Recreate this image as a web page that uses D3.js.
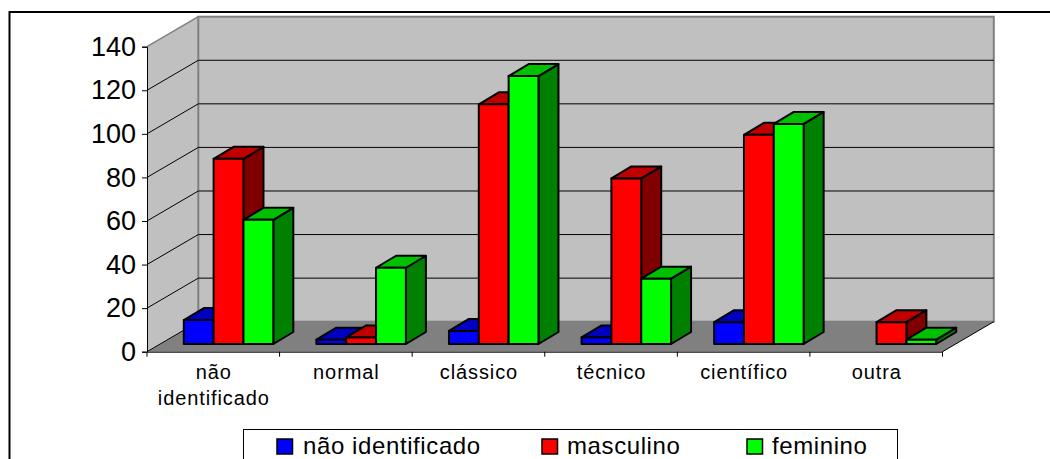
<!DOCTYPE html>
<html lang="pt">
<head>
<meta charset="utf-8">
<script src="https://cdn.jsdelivr.net/npm/d3@7"></script>
<style>
  html, body { margin: 0; padding: 0; background: #fff; overflow: hidden; }
  svg { display: block; font-family: "Liberation Sans", Arial, sans-serif; }
</style>
</head>
<body>
<svg id="chart" width="1050" height="459"></svg>
<script>
// Matriculas por tipo de curso e sexo
const categories = ["não identificado", "normal", "clássico", "técnico", "científico", "outra"];
const categoryLines = [["não", "identificado"], ["normal"], ["clássico"], ["técnico"], ["científico"], ["outra"]];
const seriesNames = ["não identificado", "masculino", "feminino"];
const naoIdentificado = [11, 2, 6, 3, 10, 0];
const masculino = [85, 3, 110, 76, 96, 10];
const feminino = [57, 35, 123, 30, 101, 2];
const yTicks = [0, 20, 40, 60, 80, 100, 120, 140];

const seriesValues = [naoIdentificado, masculino, feminino];
const faceColors = ["#0000ff", "#ff0000", "#00ff00"];
const topColors = ["#0000c0", "#c00000", "#00c000"];
const sideColors = ["#000080", "#800000", "#008000"];

const svg = d3.select("#chart");

// Oblique projection: the rear wall is shifted up and to the right of the front plane
const wallDx = 51.3, wallDy = -30;
const barInsetX = 36.8, barInsetY = -7.7;
const barDx = 20, barDy = -12;

const x = d3.scaleBand().domain(categories).range([147, 942.5]);
const y = d3.scaleLinear().domain([0, 140]).range([351.7, 46.7]);
const inner = d3.scaleBand().domain(seriesNames).range([0, 89.5]);

const poly = pts => pts.map(p => p.join(",")).join(" ");
const [xL, xR] = x.range();
const y0 = y(0), yTop = y(140);

// Outer frame
svg.append("rect").attr("x", 9.5).attr("y", 12).attr("width", 1100).attr("height", 500)
  .attr("fill", "#fff").attr("stroke", "#000").attr("stroke-width", 2);

// Side wall, rear wall and floor
svg.append("polygon")
  .attr("points", poly([[xL, y0], [xL, yTop], [xL + wallDx, yTop + wallDy], [xL + wallDx, y0 + wallDy]]))
  .attr("fill", "#c0c0c0");
svg.append("rect")
  .attr("x", xL + wallDx).attr("y", yTop + wallDy)
  .attr("width", xR - xL).attr("height", y0 - yTop)
  .attr("fill", "#c0c0c0").attr("stroke", "#808080").attr("stroke-width", 2);
svg.append("polygon")
  .attr("points", poly([[xL, y0], [xR, y0], [xR + wallDx, y0 + wallDy], [xL + wallDx, y0 + wallDy]]))
  .attr("fill", "#808080");
svg.append("line")
  .attr("x1", xL).attr("y1", yTop).attr("x2", xL + wallDx).attr("y2", yTop + wallDy)
  .attr("stroke", "#808080").attr("stroke-width", 1.5);

// Gridlines across both walls
const grid = svg.append("g").attr("fill", "none").attr("stroke", "#000").attr("stroke-width", 1);
yTicks.filter(t => t > 0 && t < 140).forEach(t => {
  const py = y(t);
  grid.append("polyline")
    .attr("points", poly([[xL, py], [xL + wallDx, py + wallDy], [xR + wallDx, py + wallDy]]));
});
grid.append("line")
  .attr("x1", xL).attr("y1", y0).attr("x2", xL + wallDx).attr("y2", y0 + wallDy)
  .attr("stroke", "#000");

// Floor edges
svg.append("line")
  .attr("x1", xR).attr("y1", y0).attr("x2", xR + wallDx).attr("y2", y0 + wallDy)
  .attr("stroke", "#000");

// Value axis
const yAxis = svg.append("g")
  .attr("transform", `translate(${xL},0)`)
  .call(d3.axisLeft(y).tickValues(yTicks).tickSize(5).tickPadding(6).tickFormat(d3.format("d")));
yAxis.selectAll("text").attr("font-size", 27).attr("font-family", "Liberation Sans").attr("fill", "#000");
yAxis.selectAll("line, path").attr("stroke", "#000");

// Category axis: ticks sit on the band edges, labels in the band centres
const xAxis = svg.append("g")
  .attr("transform", `translate(0,${y0})`)
  .call(d3.axisBottom(x).tickSize(0).tickFormat(""));
xAxis.select("path").attr("stroke", "#000");
svg.append("g").selectAll("line")
  .data(categories.map(c => x(c)).concat([xR]))
  .join("line")
  .attr("x1", d => d).attr("x2", d => d)
  .attr("y1", y0).attr("y2", y0 + 5)
  .attr("stroke", "#000");

const labels = svg.append("g").attr("font-size", 20).attr("letter-spacing", 0.9)
  .attr("text-anchor", "middle").attr("fill", "#000");
categories.forEach((c, i) => {
  categoryLines[i].forEach((line, j) => {
    labels.append("text")
      .attr("x", x(c) + x.bandwidth() / 2 + 0.5)
      .attr("y", 379 + j * 26)
      .text(line);
  });
});

// Bars, drawn left to right so each front face covers its neighbour's side
const bars = svg.append("g")
  .attr("stroke", "#000").attr("stroke-width", 2).attr("stroke-linejoin", "round");
categories.forEach((c, i) => {
  seriesNames.forEach((s, k) => {
    const v = seriesValues[k][i];
    if (!v) return;
    const bx0 = x(c) + barInsetX + inner(s);
    const bx1 = bx0 + inner.bandwidth();
    const by0 = y(0) + barInsetY;
    const by1 = y(v) + barInsetY;
    bars.append("polygon")
      .attr("points", poly([[bx1, by0], [bx1, by1], [bx1 + barDx, by1 + barDy], [bx1 + barDx, by0 + barDy]]))
      .attr("fill", sideColors[k]);
    bars.append("polygon")
      .attr("points", poly([[bx0, by1], [bx1, by1], [bx1 + barDx, by1 + barDy], [bx0 + barDx, by1 + barDy]]))
      .attr("fill", topColors[k]);
    bars.append("rect")
      .attr("x", bx0).attr("y", by1).attr("width", bx1 - bx0).attr("height", by0 - by1)
      .attr("fill", faceColors[k]);
  });
});

// Legend, running past the lower edge of the page
svg.append("rect").attr("x", 243.5).attr("y", 429.5).attr("width", 654).attr("height", 60)
  .attr("fill", "#fff").attr("stroke", "#000").attr("stroke-width", 1);
const legendX = [277, 542, 747];
const legendText = [303, 567, 772];
const legend = svg.append("g");
seriesNames.forEach((s, k) => {
  legend.append("rect")
    .attr("x", legendX[k]).attr("y", 439).attr("width", 15.5).attr("height", 15)
    .attr("fill", faceColors[k]).attr("stroke", "#000").attr("stroke-width", 1.5);
  legend.append("text")
    .attr("x", legendText[k]).attr("y", 454)
    .attr("font-size", 24).attr("letter-spacing", 0.6).attr("fill", "#000")
    .text(s);
});
</script>
</body>
</html>
